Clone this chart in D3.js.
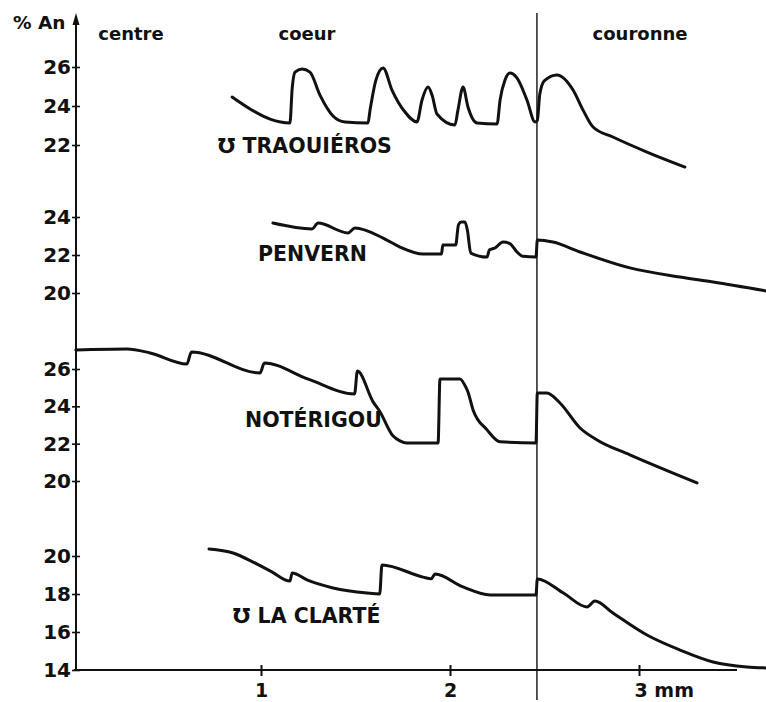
<!DOCTYPE html>
<html><head><meta charset="utf-8">
<script src="https://cdn.jsdelivr.net/npm/d3@7"></script>
<style>
html,body{margin:0;padding:0;background:#fff;}
svg{display:block;}
text{font-family:"DejaVu Sans",sans-serif;font-weight:bold;fill:#111;}
</style></head>
<body>
<svg id="c" width="766" height="702"></svg>
<script>
// ---- data (x in mm, y in % An) ----
const xTicks = [1, 2, 3];
const xTickLabels = ["1", "2", "3 mm"];
const zoneLabels = ["centre", "coeur", "couronne"];
const zoneBoundary = 2.46;

const traouierosTicks = [22, 24, 26];
const penvernTicks = [20, 22, 24];
const noterigouTicks = [20, 22, 24, 26];
const laClarteTicks = [14, 16, 18, 20];

const traouieros = [[0.847,24.46],[0.942,23.85],[1.048,23.33],[1.153,23.13],[1.165,24.9],[1.180,25.74],[1.217,25.90],[1.259,25.74],[1.312,24.56],[1.381,23.49],[1.444,23.18],[1.566,23.13],[1.577,23.79],[1.608,25.33],[1.646,25.95],[1.693,24.82],[1.762,23.69],[1.825,23.18],[1.852,24.31],[1.884,24.97],[1.905,24.56],[1.931,23.59],[2.026,23.03],[2.042,23.79],[2.069,24.97],[2.095,23.95],[2.143,23.13],[2.249,23.08],[2.265,24.31],[2.291,25.33],[2.317,25.69],[2.354,25.44],[2.407,24.31],[2.450,23.18],[2.462,23.25],[2.475,24.6],[2.500,25.3],[2.566,25.59],[2.651,24.82],[2.704,23.79],[2.757,22.92],[2.862,22.41],[3.042,21.64],[3.243,20.87]];
const penvern = [[1.063,23.68],[1.270,23.37],[1.302,23.68],[1.460,23.16],[1.497,23.42],[1.646,22.89],[1.735,22.42],[1.857,22.05],[1.955,22.05],[1.962,22.53],[2.030,22.53],[2.045,23.6],[2.060,23.74],[2.079,23.74],[2.092,23.3],[2.110,22.1],[2.196,21.89],[2.208,22.26],[2.238,22.37],[2.280,22.68],[2.317,22.6],[2.354,22.16],[2.386,21.93],[2.455,21.89],[2.462,22.79],[2.545,22.68],[2.688,22.16],[2.952,21.32],[3.217,20.84],[3.392,20.58],[3.672,20.11]];
const noterigou = [[0.02,27.02],[0.291,27.07],[0.413,26.86],[0.608,26.27],[0.632,26.91],[0.995,25.79],[1.018,26.32],[1.250,25.46],[1.495,24.66],[1.510,25.89],[1.593,24.24],[1.630,23.70],[1.698,22.42],[1.735,22.15],[1.772,22.04],[1.937,22.04],[1.947,25.47],[2.053,25.47],[2.080,25.1],[2.095,24.77],[2.122,23.81],[2.196,22.74],[2.265,22.10],[2.455,22.04],[2.462,24.72],[2.513,24.72],[2.582,24.18],[2.688,22.84],[2.778,22.20],[2.952,21.40],[3.307,19.90]];
const laClarte = [[0.725,20.37],[0.852,20.16],[0.958,19.68],[1.055,19.18],[1.153,18.68],[1.165,19.11],[1.243,18.74],[1.381,18.32],[1.561,18.05],[1.628,18.0],[1.640,19.53],[1.857,18.89],[1.900,18.8],[1.921,19.05],[2.069,18.37],[2.212,17.95],[2.455,17.95],[2.462,18.79],[2.600,18.05],[2.725,17.32],[2.767,17.63],[2.862,17.0],[3.042,15.84],[3.217,15.05],[3.392,14.42],[3.571,14.16],[3.672,14.11]];

const seriesNames = ["℧ TRAOUIÉROS", "PENVERN", "NOTÉRIGOU", "℧ LA CLARTÉ"];

// ---- layout ----
const svg = d3.select("#c");
const x = d3.scaleLinear().domain([0, 3]).range([72, 639]);
const axisX0 = 76;

const panels = [
  {data: traouieros, ticks: traouierosTicks, y: d3.scaleLinear().domain([22, 26]).range([145, 67]), lab: [218, 153]},
  {data: penvern, ticks: penvernTicks, y: d3.scaleLinear().domain([20, 24]).range([293, 217]), lab: [258, 261]},
  {data: noterigou, ticks: noterigouTicks, y: d3.scaleLinear().domain([20, 26]).range([481, 369]), lab: [245, 427]},
  {data: laClarte, ticks: laClarteTicks, y: d3.scaleLinear().domain([14, 20]).range([670, 556]), lab: [233, 623]}
];

// y axis line with arrow
svg.append("line").attr("x1", axisX0).attr("x2", axisX0).attr("y1", 670).attr("y2", 16)
  .attr("stroke", "#111").attr("stroke-width", 2);
svg.append("path").attr("d", `M${axisX0-3.5},25 L${axisX0},13 L${axisX0+3.5},25 Z`).attr("fill", "#111");
svg.append("text").attr("x", 13).attr("y", 29).attr("font-size", 18.5).text("% An");

// x axis
const gx = svg.append("g").attr("transform", "translate(0,670)")
  .call(d3.axisBottom(x).tickValues(xTicks).tickSize(6).tickPadding(8).tickFormat((d, i) => xTickLabels[i]));
gx.select(".domain").remove();
gx.selectAll(".tick line").attr("y1", -5).attr("y2", 6).attr("stroke", "#111").attr("stroke-width", 2);
gx.selectAll(".tick text").attr("font-size", 19).attr("font-family", "DejaVu Sans").attr("font-weight", "bold").attr("fill", "#111");
gx.selectAll(".tick").filter((d) => d === 3).select("text").attr("text-anchor", "start").attr("dx", -5);
svg.append("line").attr("x1", 74).attr("x2", 737).attr("y1", 670).attr("y2", 670)
  .attr("stroke", "#111").attr("stroke-width", 2);

// zone boundary
svg.append("line").attr("x1", x(zoneBoundary)).attr("x2", x(zoneBoundary)).attr("y1", 13).attr("y2", 700)
  .attr("stroke", "#111").attr("stroke-width", 1.4);

// zone labels
const zoneX = [131, 307, 640];
zoneLabels.forEach((t, i) => {
  svg.append("text").attr("x", zoneX[i]).attr("y", 40).attr("text-anchor", "middle").attr("font-size", 18).text(t);
});

const line = d3.line().curve(d3.curveMonotoneX);

panels.forEach((p, i) => {
  const g = svg.append("g").attr("transform", `translate(${axisX0},0)`);
  const ax = d3.axisLeft(p.y).tickValues(p.ticks).tickSize(4).tickPadding(1).tickFormat(d3.format("d"));
  g.call(ax);
  g.select(".domain").remove();
  g.selectAll(".tick line").attr("x2", 4).attr("x1", -4).attr("stroke", "#111").attr("stroke-width", 1.6);
  g.selectAll(".tick text").attr("font-size", 20).attr("font-family", "DejaVu Sans").attr("font-weight", "bold").attr("fill", "#111");

  line.x(d => x(d[0])).y(d => p.y(d[1]));
  svg.append("path").datum(p.data).attr("d", line)
    .attr("fill", "none").attr("stroke", "#111").attr("stroke-width", 3).attr("stroke-linejoin", "round").attr("stroke-linecap", "round");

  svg.append("text").attr("x", p.lab[0]).attr("y", p.lab[1]).attr("font-size", 20.5).text(seriesNames[i]);
});
</script>
</body></html>
